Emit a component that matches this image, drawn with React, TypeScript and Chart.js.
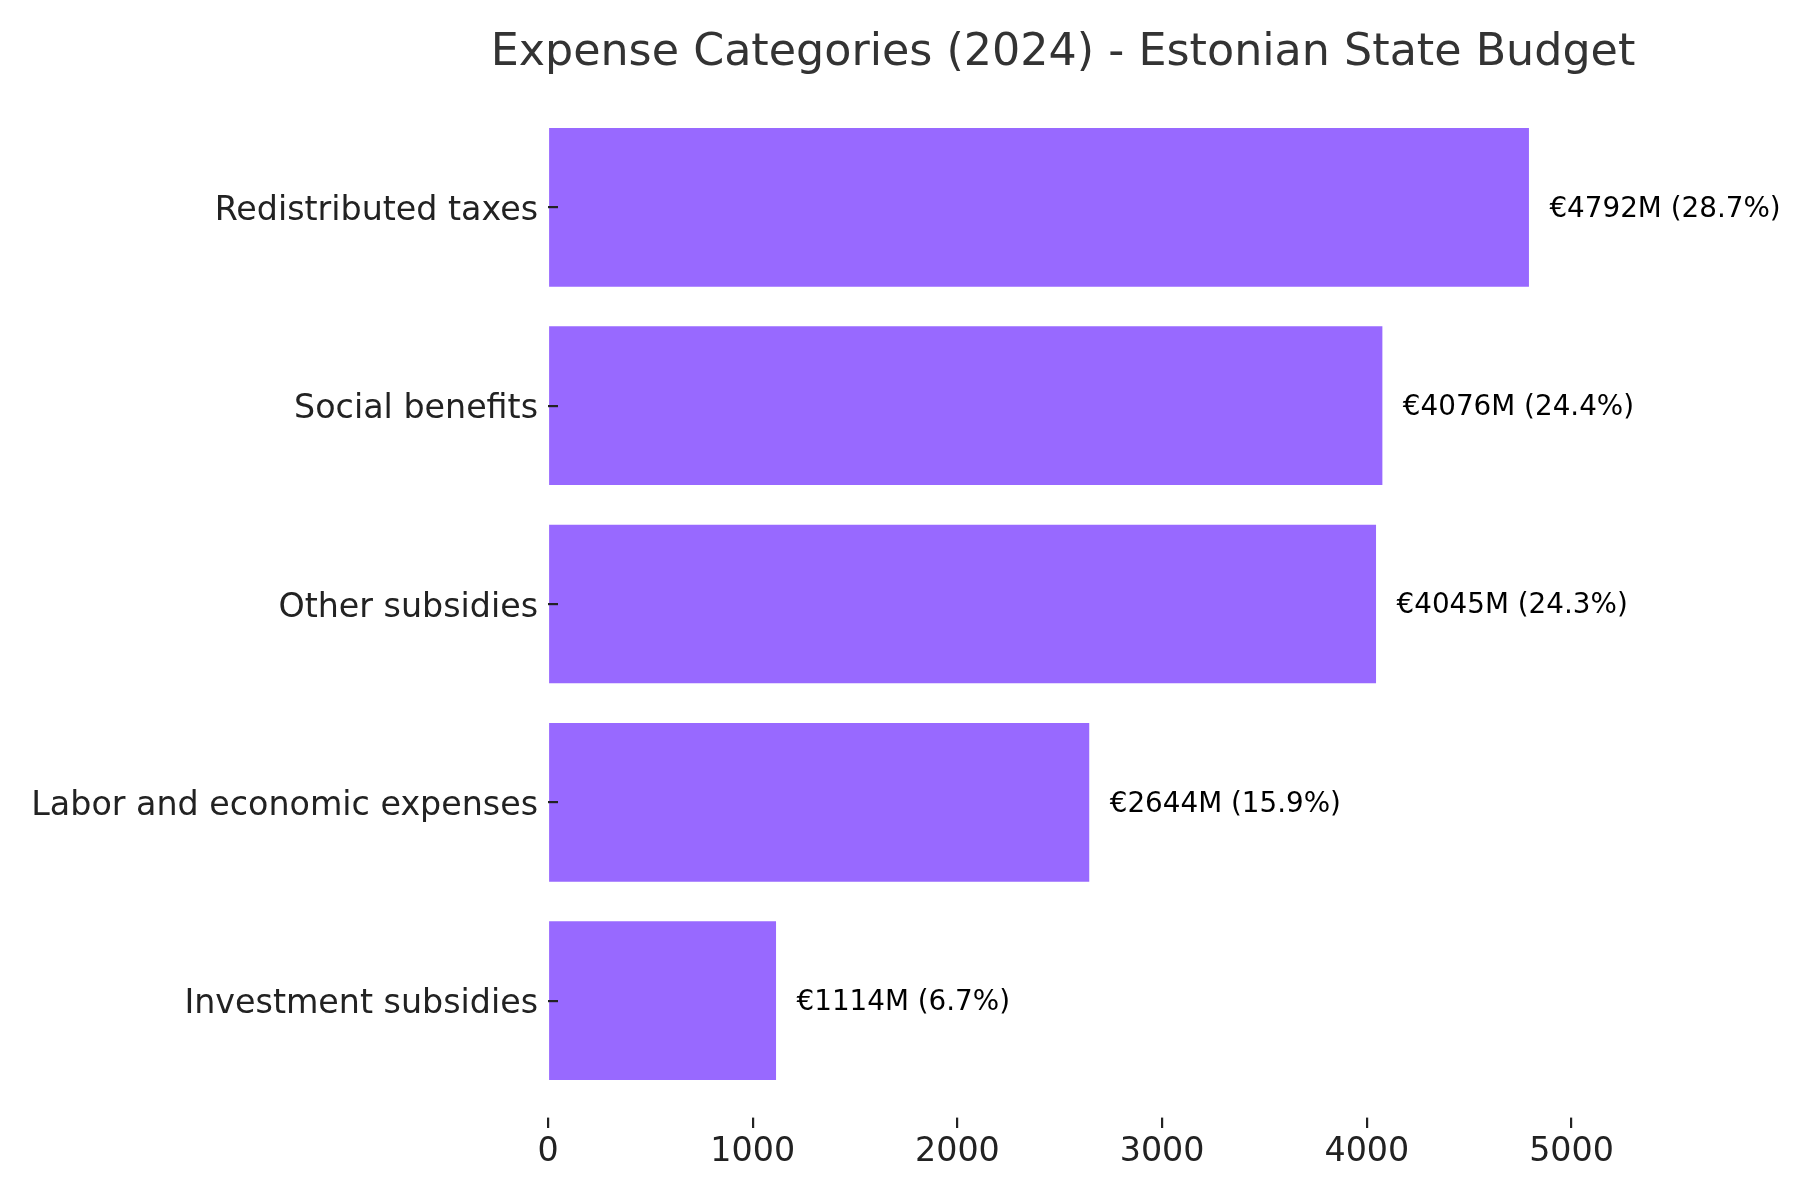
import React, { useEffect, useRef } from "react";
import { Chart, registerables } from "chart.js";

Chart.register(...registerables);

const categories = [
  "Investment subsidies",
  "Labor and economic expenses",
  "Other subsidies",
  "Social benefits",
  "Redistributed taxes",
];
const amounts = [1114, 2644, 4045, 4076, 4792];
const percents = [6.7, 15.9, 24.3, 24.4, 28.7];
const xTicks = [0, 1000, 2000, 3000, 4000, 5000];
const title = "Expense Categories (2024) - Estonian State Budget";

const FONT = "'DejaVu Sans', sans-serif";

export default function App() {
  const ref = useRef<HTMLCanvasElement | null>(null);

  useEffect(() => {
    document.body.style.margin = "0";
    const canvas = ref.current!;
    const labelPlugin = {
      id: "valueLabels",
      afterDatasetsDraw(chart: any) {
        const ctx = chart.ctx;
        const xs = chart.scales.x;
        const ys = chart.scales.y;
        ctx.save();
        ctx.font = `27.8px ${FONT}`;
        ctx.fillStyle = "#000000";
        ctx.textAlign = "left";
        ctx.textBaseline = "middle";
        amounts.forEach((v, i) => {
          const x = xs.getPixelForValue(v + 100);
          const y = ys.getPixelForValue(i) + 2;
          ctx.fillText(`€${v}M (${percents[i].toFixed(1)}%)`, x, y);
        });
        ctx.restore();
      },
      afterDraw(chart: any) {
        const ctx = chart.ctx;
        const ca = chart.chartArea;
        ctx.save();
        ctx.font = `44.4px ${FONT}`;
        ctx.fillStyle = "#333333";
        ctx.textAlign = "center";
        ctx.textBaseline = "alphabetic";
        ctx.fillText(title, (ca.left + ca.right) / 2, 65.3);
        ctx.restore();
      },
    };

    const chart = new Chart(canvas, {
      type: "bar",
      data: {
        datasets: [
          {
            data: amounts.map((v, i) => ({ x: v, y: i })),
            backgroundColor: "#9869ff",
            borderWidth: 0,
            barPercentage: 0.8,
            categoryPercentage: 1.0,
          },
        ],
      },
      options: {
        indexAxis: "y",
        animation: false,
        responsive: false,
        maintainAspectRatio: false,
        layout: { padding: { left: 0, right: 222, top: 80.4, bottom: 0 } },
        plugins: {
          legend: { display: false },
          tooltip: { enabled: false },
          title: { display: false },
        },
        scales: {
          x: {
            type: "linear",
            position: "bottom",
            min: 0,
            max: 5031.6,
            offset: false,
            afterBuildTicks: (s: any) => {
              s.ticks = xTicks.map((v) => ({ value: v }));
            },
            afterFit: (s: any) => {
              s.height = 72.4;
            },
            grid: {
              display: true,
              offset: false,
              drawOnChartArea: false,
              drawTicks: true,
              tickLength: -10,
              color: "#222222",
              lineWidth: 2.2,
              z: 1,
            },
            border: { display: false },
            ticks: {
              color: "#222222",
              font: { family: FONT, size: 33.3 },
              padding: 15,
              maxRotation: 0,
              autoSkip: false,
              callback: (v: any) => String(v),
            },
          },
          y: {
            type: "linear",
            position: "left",
            min: -0.64,
            max: 4.64,
            offset: false,
            z: 1,
            afterBuildTicks: (s: any) => {
              s.ticks = categories.map((_, i) => ({ value: i }));
            },
            afterFit: (s: any) => {
              s.width = 548;
            },
            grid: {
              display: true,
              offset: false,
              drawOnChartArea: false,
              drawTicks: true,
              tickLength: -10,
              color: "#222222",
              lineWidth: 2.2,
              z: 1,
            },
            border: { display: false },
            ticks: {
              color: "#222222",
              font: { family: FONT, size: 33.3 },
              padding: 20,
              labelOffset: 4,
              autoSkip: false,
              callback: (v: any) => categories[Number(v)] ?? "",
            },
          },
        },
      },
      plugins: [labelPlugin],
    } as any);

    return () => chart.destroy();
  }, []);

  return (
    <div style={{ position: "absolute", left: 0, top: 0, width: 1800, height: 1200, background: "#ffffff" }}>
      <canvas ref={ref} width={1800} height={1200} style={{ width: 1800, height: 1200 }} />
    </div>
  );
}
